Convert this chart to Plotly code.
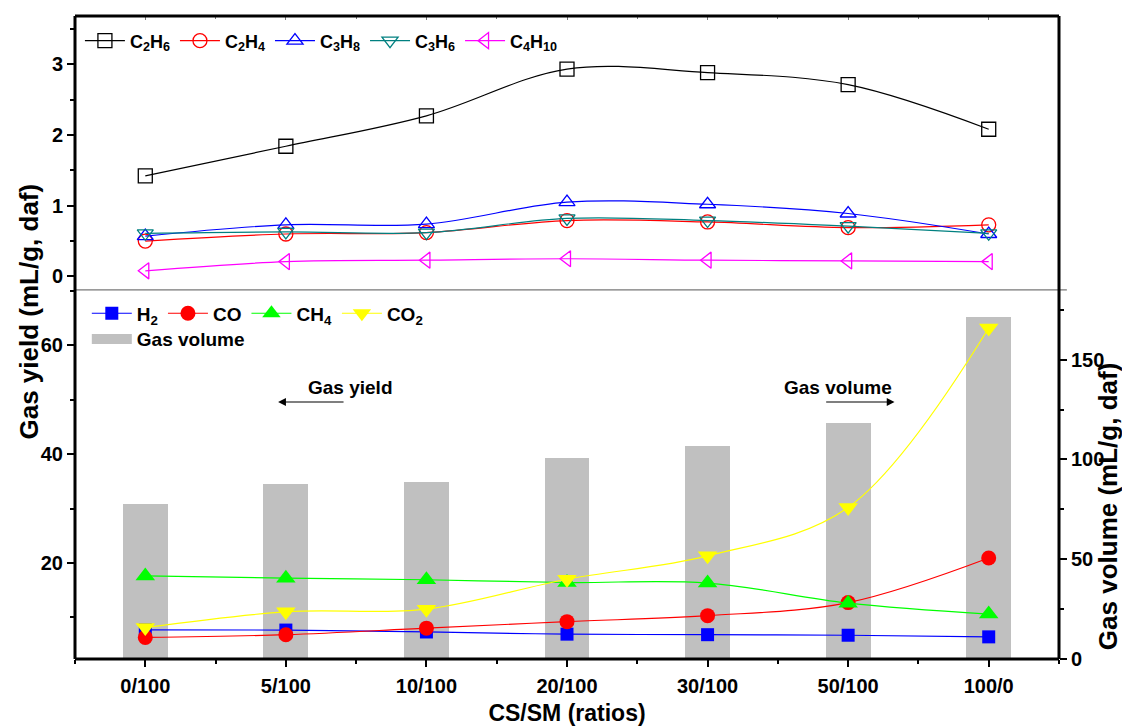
import plotly.graph_objects as go

categories = ["0/100", "5/100", "10/100", "20/100", "30/100", "50/100", "100/0"]

# Top panel (gas yield, mL/g daf)
c2h6 = [1.42, 1.84, 2.27, 2.93, 2.88, 2.71, 2.08]
c2h4 = [0.50, 0.60, 0.62, 0.79, 0.77, 0.69, 0.73]
c3h8 = [0.57, 0.73, 0.74, 1.05, 1.02, 0.89, 0.60]
c3h6 = [0.61, 0.63, 0.62, 0.82, 0.79, 0.71, 0.61]
c4h10 = [0.08, 0.21, 0.23, 0.25, 0.23, 0.22, 0.21]

# Bottom panel (gas yield, mL/g daf)
h2 = [7.7, 7.65, 7.3, 6.9, 6.8, 6.7, 6.4]
co = [6.3, 6.8, 8.0, 9.2, 10.3, 12.7, 20.9]
ch4 = [17.6, 17.2, 16.9, 16.4, 16.3, 12.6, 10.6]
co2 = [8.1, 11.0, 11.5, 17.0, 21.3, 30.2, 63.2]

# Gas volume (mL/g daf, right axis)
gas_volume = [77.9, 87.9, 88.7, 100.9, 106.7, 118.2, 171.7]

xpos = list(range(len(categories)))
FONT = "Arial, Liberation Sans, sans-serif"

fig = go.Figure()

# Bars (right axis of bottom panel, base subplot so lines draw on top)
fig.add_trace(go.Bar(x=xpos, y=gas_volume, width=0.32, marker=dict(color="#C0C0C0", line=dict(width=0)),
                     xaxis="x", yaxis="y", showlegend=False, name="Gas volume"))

top_series = [
    ("<b>C<sub>2</sub>H<sub>6</sub></b>", c2h6, "black", "square-open"),
    ("<b>C<sub>2</sub>H<sub>4</sub></b>", c2h4, "red", "circle-open"),
    ("<b>C<sub>3</sub>H<sub>8</sub></b>", c3h8, "blue", "triangle-up-open"),
    ("<b>C<sub>3</sub>H<sub>6</sub></b>", c3h6, "#008080", "triangle-down-open"),
    ("<b>C<sub>4</sub>H<sub>10</sub></b>", c4h10, "#FF00FF", "triangle-left-open"),
]
for name, vals, col, sym in top_series:
    fig.add_trace(go.Scatter(x=xpos, y=vals, name=name, mode="lines+markers",
                             line=dict(color=col, width=1.2, shape="spline"),
                             marker=dict(symbol=sym, size=14, color=col, line=dict(width=1.3, color=col)),
                             xaxis="x2", yaxis="y2", legend="legend"))

bot_series = [
    ("<b>H<sub>2</sub></b>", h2, "blue", "square", 13),
    ("<b>CO</b>", co, "red", "circle", 15),
    ("<b>CH<sub>4</sub></b>", ch4, "#00FF00", "triangle-up", 17),
    ("<b>CO<sub>2</sub></b>", co2, "#FFFF00", "triangle-down", 17),
]
for name, vals, col, sym, sz in bot_series:
    fig.add_trace(go.Scatter(x=xpos, y=vals, name=name, mode="lines+markers",
                             line=dict(color=col, width=1.2, shape="spline"),
                             marker=dict(symbol=sym, size=sz, color=col, line=dict(width=0)),
                             xaxis="x", yaxis="y3", legend="legend2"))

# legend entry for bars
fig.add_trace(go.Scatter(x=[None], y=[None], name="<b>Gas volume</b>", mode="lines",
                         line=dict(color="#C0C0C0", width=16), xaxis="x", yaxis="y", legend="legend3"))

split = 0.574
tickfont = dict(family=FONT, size=20, color="black", weight="bold")
xtitlefont = dict(family=FONT, size=23, color="black", weight="bold")
ytitlefont = dict(family=FONT, size=26, color="black", weight="bold")
half = [i - 0.5 for i in range(8)]
tk = dict(ticks="outside", ticklen=7, tickwidth=2, tickcolor="black", showgrid=False, zeroline=False,
          showline=False, automargin=False)

fig.update_layout(
    width=1122, height=718,
    margin=dict(l=67, r=71, t=8, b=67),
    paper_bgcolor="white", plot_bgcolor="white",
    font=dict(family=FONT, color="black"),
    xaxis=dict(domain=[0, 1], range=[-0.5, 6.5], anchor="y", tickmode="array", tickvals=xpos,
               ticktext=[f"<b>{c}</b>" for c in categories], tickfont=tickfont, ticklabelstandoff=2,
               minor=dict(tickvals=half, ticks="outside", ticklen=4, tickwidth=2, tickcolor="black"),
               title=dict(text="<b>CS/SM (ratios)</b>", font=xtitlefont, standoff=18), **tk),
    yaxis=dict(domain=[0, split], range=[0, 185], side="right", anchor="x",
               tickmode="array", tickvals=[0, 50, 100, 150],
               ticktext=["<b>0</b>", "<b>50</b>", "<b>100</b>", "<b>150</b>"], tickfont=tickfont,
               minor=dict(tickvals=[25, 75, 125, 175], ticks="outside", ticklen=4, tickwidth=2,
                          tickcolor="black"), **tk),
    yaxis3=dict(domain=[0, split], range=[2.33, 70.2], overlaying="y", side="left", anchor="x",
                tickmode="array", tickvals=[20, 40, 60],
                ticktext=["<b>20</b>", "<b>40</b>", "<b>60</b>"], tickfont=tickfont,
                minor=dict(tickvals=[10, 30, 50, 70], ticks="outside", ticklen=4, tickwidth=2,
                           tickcolor="black"), **tk),
    xaxis2=dict(domain=[0, 1], range=[-0.5, 6.5], anchor="y2", side="top", tickmode="array", tickvals=xpos,
                showticklabels=False, showline=False, ticks="inside", ticklen=4, tickwidth=1, tickcolor="#777",
                showgrid=False, zeroline=False,
                minor=dict(tickvals=half, ticks="inside", ticklen=3, tickwidth=1, tickcolor="#777"),
                automargin=False),
    yaxis2=dict(domain=[split, 1], range=[-0.19, 3.68], anchor="x2", tickmode="array", tickvals=[0, 1, 2, 3],
                ticktext=["<b>0</b>", "<b>1</b>", "<b>2</b>", "<b>3</b>"], tickfont=tickfont,
                minor=dict(tickvals=[-0.5, 0.5, 1.5, 2.5, 3.5], ticks="outside", ticklen=4, tickwidth=2,
                           tickcolor="black"), **tk),
    legend=dict(orientation="h", x=0.005, y=0.99, xanchor="left", yanchor="top",
                bgcolor="rgba(0,0,0,0)", font=dict(family=FONT, size=18, color="black"), itemwidth=40),
    legend2=dict(orientation="h", x=0.012, y=0.567, xanchor="left", yanchor="top",
                 bgcolor="rgba(0,0,0,0)", font=dict(family=FONT, size=19, color="black"), itemwidth=40),
    legend3=dict(orientation="h", x=0.012, y=0.527, xanchor="left", yanchor="top",
                 bgcolor="rgba(0,0,0,0)", font=dict(family=FONT, size=19, color="black"), itemwidth=40),
    shapes=[
        dict(type="line", xref="paper", yref="paper", x0=0, x1=1.008, y0=split, y1=split,
             line=dict(color="#555", width=1), layer="above"),
        dict(type="line", xref="paper", yref="paper", x0=0, x1=0, y0=0, y1=1,
             line=dict(color="black", width=3), layer="above"),
        dict(type="line", xref="paper", yref="paper", x0=1, x1=1, y0=0, y1=1,
             line=dict(color="black", width=3), layer="above"),
        dict(type="line", xref="paper", yref="paper", x0=0, x1=1, y0=1, y1=1,
             line=dict(color="black", width=3), layer="above"),
        dict(type="line", xref="paper", yref="paper", x0=0, x1=1, y0=0, y1=0,
             line=dict(color="black", width=3), layer="above"),
    ],
    annotations=[
        dict(text="<b>Gas yield (mL/g, daf)</b>", xref="paper", yref="paper", x=-0.047, y=0.54,
             showarrow=False, textangle=-90, font=ytitlefont, xanchor="center", yanchor="middle"),
        dict(text="<b>Gas volume (mL/g, daf)</b>", xref="paper", yref="paper", x=1.05, y=0.238,
             showarrow=False, textangle=-90, font=ytitlefont, xanchor="center", yanchor="middle"),
        dict(text="<b>Gas yield</b>", xref="paper", yref="paper", x=0.2795, y=0.4215, showarrow=False,
             xanchor="center", yanchor="middle", font=dict(family=FONT, size=19, color="black")),
        dict(text="", xref="x", yref="paper", x=0.945, y=0.3997, ax=1.421, ay=0, axref="x",
             ayref="pixel", showarrow=True, arrowhead=2, arrowsize=1.3, arrowwidth=1.2, arrowcolor="black"),
        dict(text="<b>Gas volume</b>", xref="paper", yref="paper", x=0.7754, y=0.4215, showarrow=False,
             xanchor="center", yanchor="middle", font=dict(family=FONT, size=19, color="black")),
        dict(text="", xref="x", yref="paper", x=5.33, y=0.3997, ax=4.833, ay=0, axref="x",
             ayref="pixel", showarrow=True, arrowhead=2, arrowsize=1.3, arrowwidth=1.2, arrowcolor="black"),
    ],
    bargap=0,
)

fig.write_html("out.html")
